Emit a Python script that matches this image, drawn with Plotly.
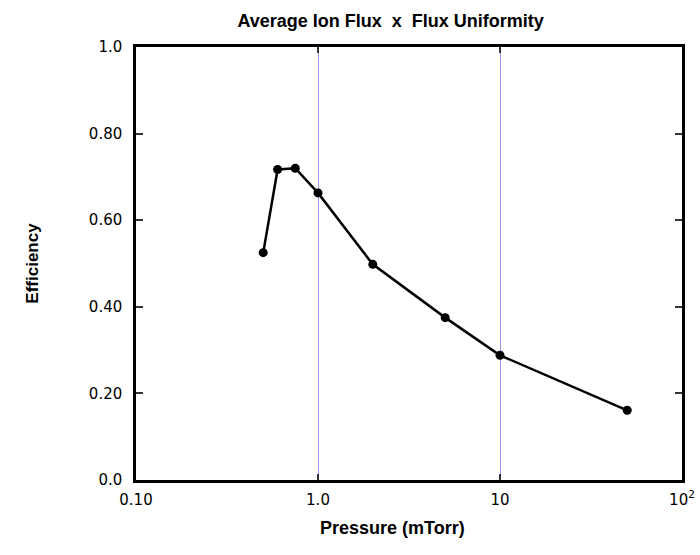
import plotly.graph_objects as go

pressure = [0.5, 0.6, 0.75, 1.0, 2.0, 5.0, 10.0, 50.0]
efficiency = [0.525, 0.717, 0.720, 0.663, 0.498, 0.375, 0.288, 0.161]

x_tickvals = [0.1, 1, 10, 100]
x_ticktext = ["0.10", "1.0", "10", "10<sup>2</sup>"]
y_tickvals = [0.0, 0.2, 0.4, 0.6, 0.8, 1.0]
y_ticktext = ["0.0", "0.20", "0.40", "0.60", "0.80", "1.0"]

fig = go.Figure()
fig.add_trace(go.Scatter(
    x=pressure, y=efficiency, mode="lines+markers",
    line=dict(color="black", width=2.5),
    marker=dict(color="black", size=9),
    showlegend=False,
))

bold = "Liberation Sans, Arial, sans-serif"
tickf = "DejaVu Sans, Verdana, sans-serif"
fig.update_layout(
    width=700, height=555,
    margin=dict(l=136, r=18, t=47, b=75, autoexpand=False),
    paper_bgcolor="white", plot_bgcolor="white",
    font=dict(family=tickf, size=14, color="black"),
    title=dict(text="<b>Average Ion Flux  x  Flux Uniformity</b>",
               x=0.558, xanchor="center", y=0.963, yanchor="middle",
               font=dict(family=bold, size=18, color="black")),
    annotations=[dict(
        text="<b>Pressure (mTorr)</b>", xref="paper", yref="paper",
        x=0.469, y=-0.112, xanchor="center", yanchor="middle",
        showarrow=False, font=dict(family=bold, size=18, color="black"),
    )],
)
fig.update_xaxes(
    type="log", range=[-1, 2], automargin=False,
    tickvals=x_tickvals, ticktext=x_ticktext,
    ticks="inside", ticklen=6, tickwidth=1.5, tickcolor="#333",
    showline=True, linecolor="black", linewidth=2.5, mirror="ticks",
    showgrid=True, gridcolor="#9a9af0", gridwidth=1,
    zeroline=False,
    tickfont=dict(family=tickf, size=15),
    ticklabelstandoff=4,
)
fig.update_yaxes(
    range=[0, 1], automargin=False,
    tickvals=y_tickvals, ticktext=y_ticktext,
    ticks="inside", ticklen=7, tickwidth=1.5, tickcolor="#333",
    showline=True, linecolor="black", linewidth=2.5, mirror="ticks",
    showgrid=False, zeroline=False,
    title=dict(text="<b>Efficiency</b>", font=dict(family=bold, size=17), standoff=46),
    tickfont=dict(family=tickf, size=15),
    ticklabelstandoff=8,
)

fig.write_html("out.html")
